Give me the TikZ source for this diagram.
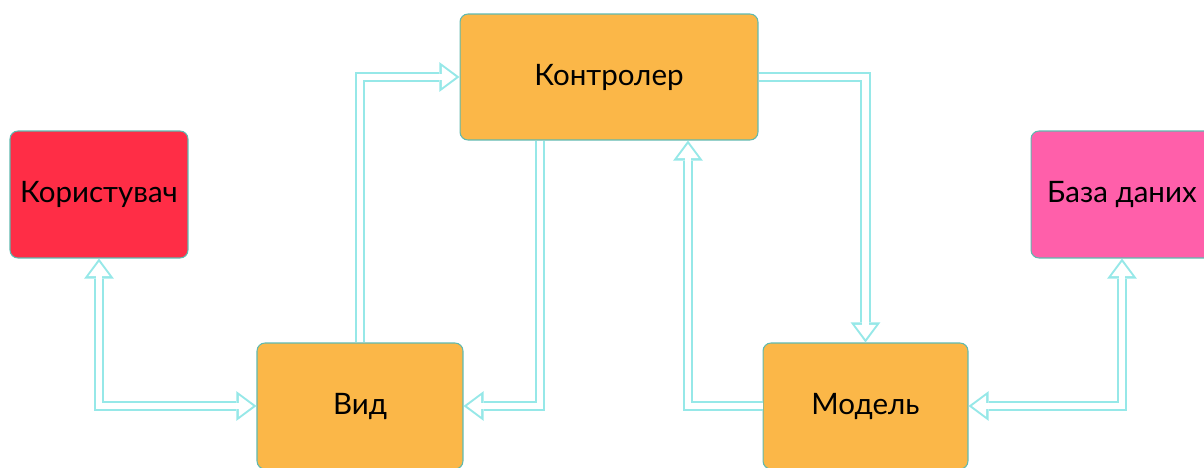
\documentclass[tikz,border=0pt]{standalone}
\usepackage{fontspec}
\setmainfont{Lato}
\usepackage{tikz}
\usetikzlibrary{arrows.meta, positioning}
\definecolor{userred}{RGB}{255, 45, 70}
\definecolor{mvcorange}{RGB}{251, 183, 72}
\definecolor{dbpink}{RGB}{255, 95, 170}
\definecolor{boxedge}{RGB}{95, 185, 175}
\definecolor{pipeedge}{RGB}{150, 232, 232}

\begin{document}
\begin{tikzpicture}[
    x=0.02cm, y=-0.02cm,
    tipin/.tip={Triangle[length=8pt, width=12pt, line width=0pt]},
    tipout/.tip={Triangle[length=11.5pt, width=17pt, line width=0pt]},
    box/.style={rectangle, draw=boxedge, line width=0.6pt, rounded corners=4.5pt,
                minimum width=4.12cm, minimum height=2.52cm, font=\fontsize{16.8}{20}\selectfont},
    pipe/.style={draw=white, line width=3.6pt, shorten >=2pt},
    oneway/.style={pipe, -tipin,
                   preaction={draw=pipeedge, line width=6pt, shorten >=0pt, -tipout}},
    twoway/.style={pipe, shorten <=2pt, tipin-tipin,
                   preaction={draw=pipeedge, line width=6pt, shorten >=0pt, shorten <=0pt, tipout-tipout}}
]

\useasboundingbox (0,0) rectangle (1204,467);

% Boxes
\node[box, fill=userred, minimum width=3.56cm, minimum height=2.54cm] (user) at (99,194.5) {Користувач};
\node[box, fill=mvcorange, minimum width=5.96cm] (ctrl) at (609,77) {Контролер};
\node[box, fill=mvcorange] (view) at (360,406) {Вид};
\node[box, fill=mvcorange, minimum width=4.1cm] (model) at (865.5,406) {Модель};
\node[box, fill=dbpink, minimum width=3.64cm, minimum height=2.54cm] (db) at (1122,194.5) {База даних};

% Connectors
\draw[twoway] (user.south) |- (view.west);
\draw[oneway] (view.north) |- (ctrl.west);
\draw[oneway] ([xshift=-1.38cm]ctrl.south) |- (view.east);
\draw[oneway] (ctrl.east) -| (model.north);
\draw[oneway] (model.west) -| ([xshift=1.58cm]ctrl.south);
\draw[twoway] (db.south) |- (model.east);

\end{tikzpicture}
\end{document}
